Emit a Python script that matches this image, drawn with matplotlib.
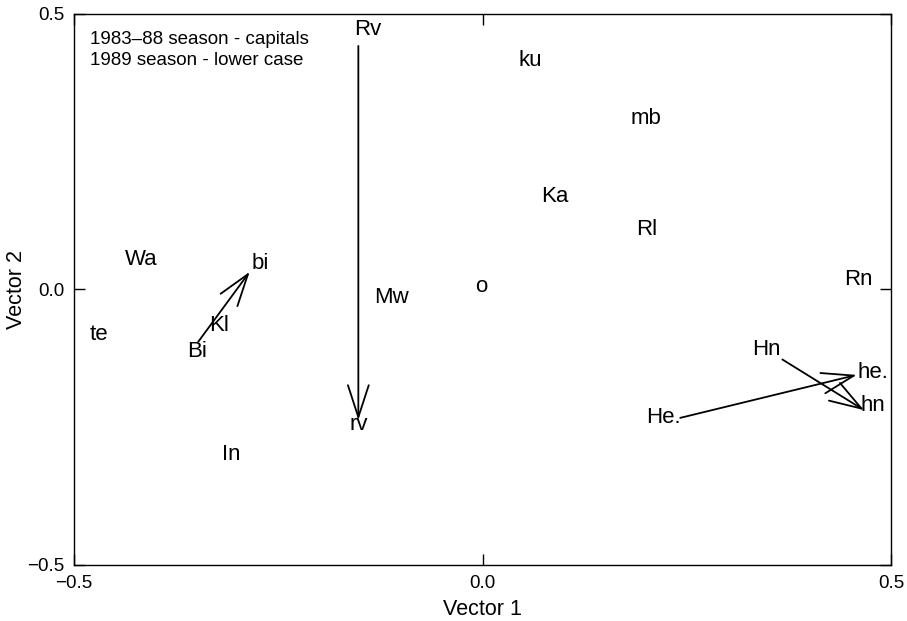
import matplotlib
matplotlib.use("Agg")
import matplotlib.pyplot as plt
from matplotlib.patches import FancyArrowPatch, ArrowStyle

plt.rcParams['font.family'] = ['Liberation Sans', 'DejaVu Sans']

# Site scores on the first two vectors (capitals 1983-88, lower case 1989)
labels = ["Rv", "rv", "ku", "mb", "Ka", "Rl", "Rn", "Wa", "bi", "Kl", "Bi",
          "te", "Mw", "o", "In", "Hn", "he.", "hn", "He."]
lab_x = [-0.140, -0.152, 0.058, 0.200, 0.089, 0.201, 0.460, -0.418, -0.272,
         -0.323, -0.349, -0.469, -0.111, -0.002, -0.307, 0.348, 0.478, 0.478, 0.221]
lab_y = [0.471, -0.245, 0.415, 0.311, 0.168, 0.108, 0.019, 0.055, 0.048,
         -0.066, -0.113, -0.081, -0.015, 0.005, -0.300, -0.109, -0.150, -0.211, -0.233]

# Shifts between seasons: Rv->rv, Bi->bi, He.->he., Hn->hn
arr_x0 = [-0.152, -0.348, 0.242, 0.367]
arr_y0 = [0.442, -0.095, -0.233, -0.127]
arr_x1 = [-0.152, -0.285, 0.458, 0.467]
arr_y1 = [-0.237, 0.032, -0.155, -0.219]

ticks = [-0.5, 0.0, 0.5]
tick_labels = ["\u22120.5", "0.0", "0.5"]

fig = plt.figure(figsize=(9.07, 6.21), dpi=100)
ax = fig.add_axes([0.0816, 0.0902, 0.9008, 0.8873])
ax.set_xlim(-0.5, 0.5)
ax.set_ylim(-0.5, 0.5)

for s in ax.spines.values():
    s.set_linewidth(1.0)
    s.set_color("black")

ax.set_xticks(ticks)
ax.set_yticks(ticks)
ax.set_xticklabels(tick_labels)
ax.set_yticklabels(tick_labels)
ax.tick_params(direction="in", length=8, width=1.0, top=True, right=True,
               labelsize=13.5, pad=7)

for t, x, y in zip(labels, lab_x, lab_y):
    ax.text(x, y, t, ha="center", va="center", fontsize=16)

head = ArrowStyle("->", head_length=23, head_width=7.5)
for x0, y0, x1, y1 in zip(arr_x0, arr_y0, arr_x1, arr_y1):
    ax.add_patch(FancyArrowPatch((x0, y0), (x1, y1), arrowstyle=head,
                                 mutation_scale=1, shrinkA=0, shrinkB=0,
                                 lw=1.3, color="black"))

ax.text(0.02, 0.97, "1983\u201388 season - capitals\n1989 season - lower case",
        transform=ax.transAxes, ha="left", va="top", fontsize=13.5,
        linespacing=1.35)

ax.set_xlabel("Vector 1", fontsize=15.5, labelpad=5)
ax.set_ylabel("Vector 2", fontsize=15.5)
ax.yaxis.set_label_coords(-0.058, 0.5)

fig.savefig("out.png", dpi=100)
